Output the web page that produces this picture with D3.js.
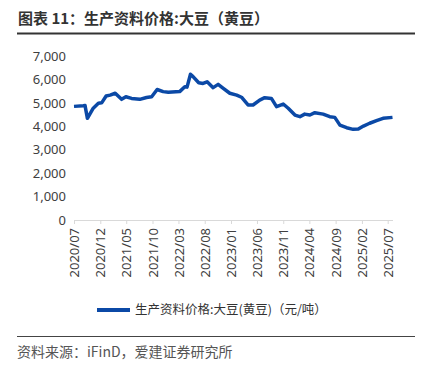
<!DOCTYPE html>
<html>
<head>
<meta charset="utf-8">
<script src="https://cdn.jsdelivr.net/npm/d3@7"></script>
<style>
  body { margin: 0; background: #fff; }
  text { font-family: "Noto Sans CJK SC", "Noto Sans", sans-serif; }
</style>
</head>
<body>
<div id="chart"></div>
<script>
// soybean price, yuan/ton
const dates = [
  "2020-07-01", "2020-08-24", "2020-09-03", "2020-09-17", "2020-10-21", "2020-11-20",
  "2020-12-09", "2021-01-04", "2021-01-27", "2021-02-26", "2021-04-04", "2021-04-29",
  "2021-06-01", "2021-07-19", "2021-08-27", "2021-09-26", "2021-10-28", "2021-12-02",
  "2022-01-01", "2022-03-08", "2022-04-07", "2022-04-20", "2022-05-10", "2022-05-25",
  "2022-06-27", "2022-07-22", "2022-08-15", "2022-09-19", "2022-10-18", "2022-11-17",
  "2022-12-25", "2023-02-03", "2023-03-03", "2023-04-10", "2023-05-09", "2023-06-17",
  "2023-07-16", "2023-08-24", "2023-09-23", "2023-11-01", "2023-11-30", "2024-01-08",
  "2024-02-06", "2024-03-05", "2024-04-04", "2024-05-03", "2024-06-20", "2024-07-29",
  "2024-08-27", "2024-09-26", "2024-11-04", "2024-12-12", "2025-01-11", "2025-02-10",
  "2025-03-18", "2025-04-27", "2025-06-04", "2025-07-29"
];
const prices = [
  4850, 4880, 4890, 4340, 4770, 4980,
  5000, 5290, 5330, 5410, 5150, 5260,
  5190, 5150, 5230, 5260, 5570, 5480,
  5450, 5480, 5690, 5670, 6220, 6120,
  5860, 5830, 5900, 5650, 5790, 5620,
  5410, 5330, 5240, 4910, 4910, 5120,
  5220, 5190, 4840, 4950, 4770, 4480,
  4410, 4520, 4480, 4580, 4520, 4410,
  4380, 4050, 3940, 3870, 3880, 4010,
  4130, 4240, 4340, 4380
];
const xTickLabels = ["2020/07", "2020/12", "2021/05", "2021/10", "2022/03", "2022/08",
  "2023/01", "2023/06", "2023/11", "2024/04", "2024/09", "2025/02", "2025/07"];
const yTicks = [0, 1000, 2000, 3000, 4000, 5000, 6000, 7000];

const width = 426, height = 365;
const blue = "#0b49a6";

const parseDay = d3.timeParse("%Y-%m-%d");
const parseMonth = d3.timeParse("%Y/%m");
const points = dates.map((d, i) => ({ date: parseDay(d), value: prices[i] }));

const svg = d3.select("#chart").append("svg")
  .attr("width", width)
  .attr("height", height);

// title + rule
svg.append("text")
  .attr("x", 18).attr("y", 24)
  .attr("font-size", 15).attr("font-weight", "bold")
  .attr("fill", "#333")
  .text("图表 11：生产资料价格:大豆（黄豆）");
svg.append("line")
  .attr("x1", 17).attr("x2", 415).attr("y1", 33.5).attr("y2", 33.5)
  .attr("stroke", "#333").attr("stroke-width", 2);

const x = d3.scaleTime()
  .domain(d3.extent(points, d => d.date))
  .range([74, 392.5]);
const y = d3.scaleLinear()
  .domain([0, 7000])
  .range([220, 56]);

// y labels, no axis line
const yAxis = svg.append("g")
  .attr("transform", "translate(66,0)")
  .call(d3.axisLeft(y).tickValues(yTicks).tickSize(0).tickPadding(0).tickFormat(d3.format(",")));
yAxis.select(".domain").remove();
yAxis.selectAll("text")
  .attr("font-size", 13).attr("fill", "#404040")
  .style("font-family", "'Noto Sans', sans-serif");

// x axis
const xAxis = svg.append("g")
  .attr("transform", "translate(0,220)")
  .call(d3.axisBottom(x)
    .tickValues(xTickLabels.map(parseMonth))
    .tickSizeInner(4).tickSizeOuter(0)
    .tickFormat(d3.timeFormat("%Y/%m")));
xAxis.select(".domain").attr("stroke", "#d9d9d9");
xAxis.selectAll(".tick line").attr("stroke", "#d9d9d9");
xAxis.selectAll("text")
  .attr("font-size", 13).attr("fill", "#404040")
  .style("font-family", "'Noto Sans', sans-serif")
  .attr("text-anchor", "end")
  .attr("transform", "rotate(-90)")
  .attr("x", -8).attr("y", 0).attr("dy", "0.35em");

// price line
svg.append("path")
  .datum(points)
  .attr("fill", "none")
  .attr("stroke", blue)
  .attr("stroke-width", 3.5)
  .attr("stroke-linejoin", "round")
  .attr("d", d3.line().x(d => x(d.date)).y(d => y(d.value)));

// legend
svg.append("line")
  .attr("x1", 97).attr("x2", 130).attr("y1", 310).attr("y2", 310)
  .attr("stroke", blue).attr("stroke-width", 4);
svg.append("text")
  .attr("x", 135).attr("y", 310).attr("dy", "0.35em")
  .attr("font-size", 12.5).attr("fill", "#333")
  .text("生产资料价格:大豆(黄豆)（元/吨）");

// source
svg.append("line")
  .attr("x1", 17).attr("x2", 415).attr("y1", 336.5).attr("y2", 336.5)
  .attr("stroke", "#444").attr("stroke-width", 1);
svg.append("text")
  .attr("x", 17).attr("y", 352).attr("dy", "0.35em")
  .attr("font-size", 14).attr("fill", "#555")
  .text("资料来源：iFinD，爱建证券研究所");
</script>
</body>
</html>
